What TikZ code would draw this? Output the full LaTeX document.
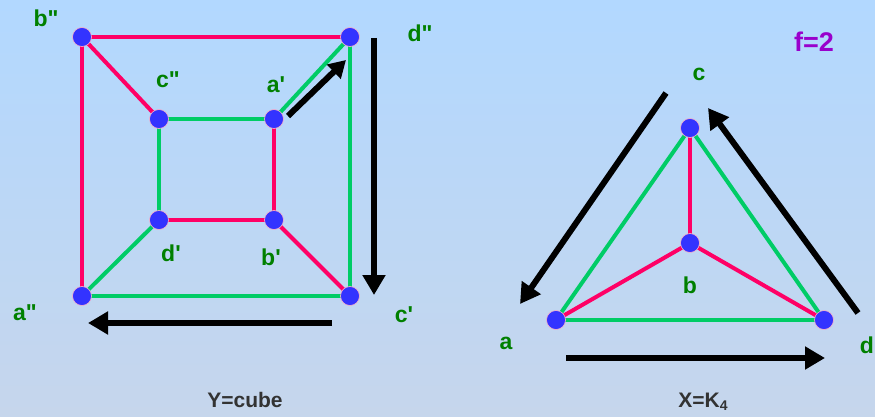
\documentclass[tikz,border=0pt]{standalone}
\usepackage{fontspec}
\setmainfont{Liberation Sans}
\usetikzlibrary{arrows.meta}
\pgfdeclarelayer{bglayer}
\pgfdeclarelayer{edgelayer}
\pgfsetlayers{bglayer,edgelayer,main}
\definecolor{bgtop}{RGB}{178,216,255}
\definecolor{bgmid}{RGB}{136,192,250}
\definecolor{bgbot}{RGB}{198,214,236}
\definecolor{redE}{RGB}{255,0,102}
\definecolor{greenE}{RGB}{0,204,102}
\definecolor{nodeblue}{RGB}{51,51,255}
\definecolor{lblgreen}{RGB}{0,128,0}
\definecolor{fpurple}{RGB}{153,0,204}
\definecolor{capgray}{RGB}{51,51,51}
\definecolor{vborder}{RGB}{255,180,200}
\newcommand{\pq}{\textquotesingle}
\newcommand{\dq}{\textquotedbl}
\tikzset{
  vtx/.style={circle,fill=nodeblue,draw=vborder,line width=0.6pt,minimum size=19pt,inner sep=0pt},
  redge/.style={draw=redE,line width=4pt},
  gedge/.style={draw=greenE,line width=4pt},
  lbl/.style={text=lblgreen,font=\bfseries\fontsize{23}{26}\selectfont,inner sep=0pt},
  captext/.style={text=capgray,font=\bfseries\fontsize{21}{25}\selectfont,inner sep=0pt},
  bigarrow/.style={draw=black,line width=6pt,-{Triangle[length=20pt,width=22pt]}},
}
\begin{document}
\begin{tikzpicture}[x=1pt,y=-1pt]
\useasboundingbox (0,0) rectangle (875,417);
\begin{pgfonlayer}{bglayer}
\shade[top color=bgtop,middle color=bgmid,bottom color=bgbot] (0,0) rectangle (875,417);
\end{pgfonlayer}
% cube nodes
\node[vtx] (bpp) at (82,37) {};
\node[vtx] (dpp) at (350,37) {};
\node[vtx] (cpp) at (159,119) {};
\node[vtx] (ap) at (274,119) {};
\node[vtx] (dp) at (159,220) {};
\node[vtx] (bp) at (274,220) {};
\node[vtx] (app) at (82,296) {};
\node[vtx] (cp) at (350,296) {};
% K4 nodes
\node[vtx] (c) at (690,128) {};
\node[vtx] (b) at (690,243) {};
\node[vtx] (a) at (556,320) {};
\node[vtx] (d) at (824,320) {};
\begin{pgfonlayer}{edgelayer}
% cube edges
\draw[redge] (bpp.center) -- (dpp.center);
\draw[redge] (bpp.center) -- (app.center);
\draw[redge] (bpp.center) -- (cpp.center);
\draw[gedge] (dpp.center) -- (ap.center);
\draw[gedge] (dpp.center) -- (cp.center);
\draw[gedge] (cpp.center) -- (ap.center);
\draw[gedge] (cpp.center) -- (dp.center);
\draw[redge] (ap.center) -- (bp.center);
\draw[redge] (dp.center) -- (bp.center);
\draw[gedge] (dp.center) -- (app.center);
\draw[redge] (bp.center) -- (cp.center);
\draw[gedge] (app.center) -- (cp.center);
% K4 edges
\draw[redge] (c.center) -- (b.center);
\draw[gedge] (c.center) -- (a.center);
\draw[gedge] (c.center) -- (d.center);
\draw[redge] (b.center) -- (a.center);
\draw[redge] (b.center) -- (d.center);
\draw[gedge] (a.center) -- (d.center);
\end{pgfonlayer}
% labels
\node[lbl] (lbpp) at (46,18) {b\dq};
\node[lbl] (ldpp) at (420,33) {d\dq};
\node[lbl] (lcpp) at (168,80) {c\dq};
\node[lbl] (lap) at (276,85) {a\pq};
\node[lbl] (ldp) at (171,253) {d\pq};
\node[lbl] (lbp) at (271,257) {b\pq};
\node[lbl] (lapp) at (25,313) {a\dq};
\node[lbl] (lcp) at (404,315) {c\pq};
\node[lbl] (lc) at (699,74) {c};
\node[lbl] (lb) at (690,285) {b};
\node[lbl] (la) at (506,343) {a};
\node[lbl] (ld) at (867,345) {d};
\node[text=fpurple,font=\bfseries\fontsize{27}{30}\selectfont,inner sep=0pt] (f) at (814,42) {f=2};
\node[captext] (ycap) at (245,400) {Y=cube};
\node[captext] (xcap) at (703,402) {X=K\raisebox{-0.3ex}{\fontsize{14}{14}\selectfont 4}};
% arrows
\coordinate (a1s) at (288,116); \coordinate (a1e) at (346,60);
\coordinate (a2s) at (374,38); \coordinate (a2e) at (374,295);
\coordinate (a3s) at (332,323); \coordinate (a3e) at (88,323);
\coordinate (a4s) at (666,93); \coordinate (a4e) at (520,304);
\coordinate (a5s) at (858,313); \coordinate (a5e) at (708,108);
\coordinate (a6s) at (566,358); \coordinate (a6e) at (825,358);
\draw[bigarrow,-{Triangle[length=17pt,width=19pt]}] (a1s) -- (a1e);
\draw[bigarrow] (a2s) -- (a2e);
\draw[bigarrow] (a3s) -- (a3e);
\draw[bigarrow] (a4s) -- (a4e);
\draw[bigarrow] (a5s) -- (a5e);
\draw[bigarrow] (a6s) -- (a6e);
\end{tikzpicture}
\end{document}
